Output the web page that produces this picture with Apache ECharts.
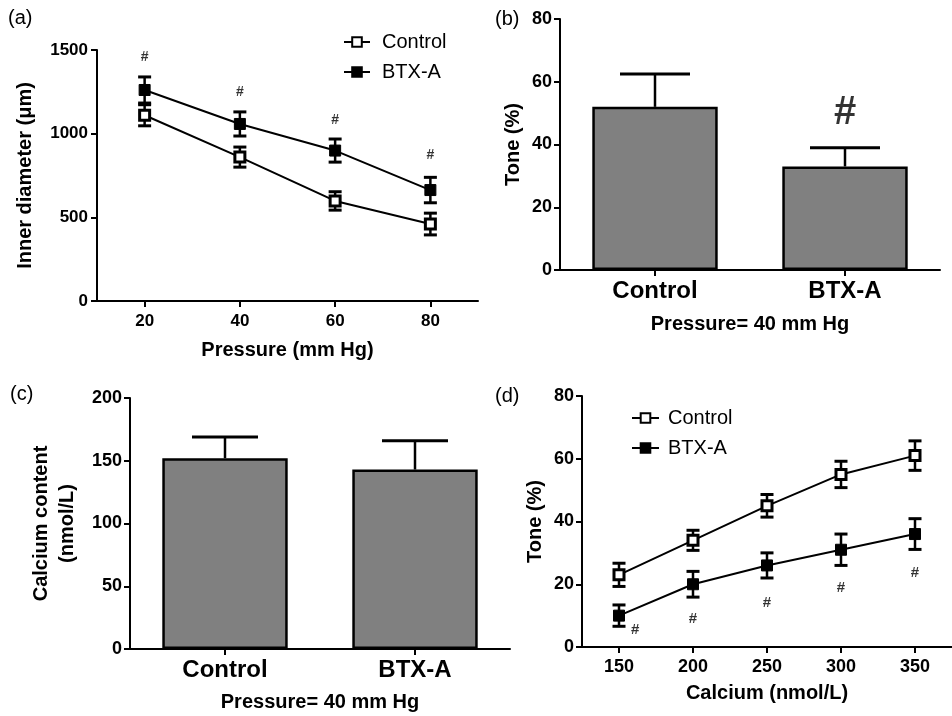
<!DOCTYPE html>
<html>
<head>
<meta charset="utf-8">
<script src="https://cdn.jsdelivr.net/npm/echarts@6/dist/echarts.min.js"></script>
<style>
  html, body { margin: 0; padding: 0; background: #fff; }
  #chart { width: 952px; height: 716px; }
</style>
</head>
<body>
<div id="chart"></div>
<script>
// (a) inner diameter vs pressure
const pressure = [20, 40, 60, 80];
const diamControl = [1110, 860, 598, 460];
const diamControlErr = [63, 60, 55, 65];
const diamBtx = [1261, 1058, 899, 663];
const diamBtxErr = [78, 72, 69, 76];
const diamHashY = [1460, 1250, 1080, 870];

// (b) tone at 40 mm Hg
const groups = ['Control', 'BTX-A'];
const toneMean = [52, 33];
const toneErr = [10.5, 6];
const toneHashY = [null, 50];

// (c) calcium content at 40 mm Hg
const calciumMean = [152, 143];
const calciumErr = [17, 23];

// (d) tone vs calcium
const calciumDose = [150, 200, 250, 300, 350];
const toneControl = [23, 34, 45, 55, 61];
const toneControlErr = [3.7, 3.2, 3.6, 4.2, 4.7];
const toneBtx = [10, 20, 26, 31, 36];
const toneBtxErr = [3.4, 4.1, 4, 5, 4.9];
const hashDoseX = [161, 200, 250, 300, 350];
const hashDoseY = [5.5, 9, 14, 19, 23.5];

const FONT = '"Liberation Sans", Arial, sans-serif';
const chart = echarts.init(document.getElementById('chart'));

// error bar drawer, cap half width, both directions or only up
const errorBars = (capHalf, both) => (params, api) => {
    const x = api.value(0), y = api.value(1), e = api.value(2);
    const top = api.coord([x, y + e]);
    const bottom = api.coord([x, both ? y - e : y]);
    const stem = { stroke: '#000', lineWidth: 2.5 };
    const cap = { stroke: '#000', lineWidth: 3 };
    const children = [
        { type: 'line', shape: { x1: top[0], y1: top[1], x2: bottom[0], y2: bottom[1] }, style: stem },
        { type: 'line', shape: { x1: top[0] - capHalf, y1: top[1], x2: top[0] + capHalf, y2: top[1] }, style: cap }
    ];
    if (both) {
        children.push({ type: 'line', shape: { x1: bottom[0] - capHalf, y1: bottom[1], x2: bottom[0] + capHalf, y2: bottom[1] }, style: cap });
    }
    return { type: 'group', children };
};

const axisLine = { show: true, lineStyle: { color: '#000', width: 2 } };
const axisTick = { show: true, length: 6, lineStyle: { color: '#000', width: 2 } };
const tickLabel = (size, margin) => ({ color: '#000', fontSize: size, fontWeight: 'bold', fontFamily: FONT, margin: margin });
const nameStyle = { color: '#000', fontSize: 20, fontWeight: 'bold', fontFamily: FONT };

const openSquare = { color: '#fff', borderColor: '#000', borderWidth: 3 };
const filledSquare = { color: '#000', borderColor: '#000', borderWidth: 1 };

const option = {
    animation: false,
    backgroundColor: '#fff',
    grid: [
        { left: 97, top: 50, width: 381, height: 251 },
        { left: 560, top: 19, width: 380, height: 251 },
        { left: 130, top: 398, width: 380, height: 251 },
        { left: 582, top: 396, width: 377, height: 251 }
    ],
    xAxis: [
        {
            gridIndex: 0, type: 'value', min: 10, max: 90,
            name: 'Pressure (mm Hg)', nameLocation: 'middle', nameGap: 39, nameTextStyle: nameStyle,
            axisLine, axisTick: Object.assign({ customValues: pressure }, axisTick),
            axisLabel: Object.assign({ customValues: pressure }, tickLabel(17, 12)),
            splitLine: { show: false }
        },
        {
            gridIndex: 1, type: 'category', data: groups,
            name: 'Pressure= 40 mm Hg', nameLocation: 'middle', nameGap: 44, nameTextStyle: nameStyle,
            axisLine, axisTick: Object.assign({ alignWithLabel: true }, axisTick),
            axisLabel: tickLabel(24, 9)
        },
        {
            gridIndex: 2, type: 'category', data: groups,
            name: 'Pressure= 40 mm Hg', nameLocation: 'middle', nameGap: 43, nameTextStyle: nameStyle,
            axisLine, axisTick: Object.assign({ alignWithLabel: true }, axisTick),
            axisLabel: tickLabel(24, 9)
        },
        {
            gridIndex: 3, type: 'value', min: 125, max: 375,
            name: 'Calcium (nmol/L)', nameLocation: 'middle', nameGap: 36, nameTextStyle: nameStyle,
            axisLine, axisTick: Object.assign({ customValues: calciumDose }, axisTick),
            axisLabel: Object.assign({ customValues: calciumDose }, tickLabel(18, 11)),
            splitLine: { show: false }
        }
    ],
    yAxis: [
        {
            gridIndex: 0, type: 'value', min: 0, max: 1500, interval: 500,
            name: 'Inner diameter (μm)', nameLocation: 'middle', nameGap: 62, nameTextStyle: nameStyle,
            axisLine, axisTick,
            axisLabel: Object.assign({ formatter: v => String(v) }, tickLabel(17, 9)),
            splitLine: { show: false }
        },
        {
            gridIndex: 1, type: 'value', min: 0, max: 80, interval: 20,
            name: 'Tone (%)', nameLocation: 'middle', nameGap: 37, nameTextStyle: nameStyle,
            axisLine, axisTick, axisLabel: tickLabel(18, 8), splitLine: { show: false }
        },
        {
            gridIndex: 2, type: 'value', min: 0, max: 200, interval: 50,
            name: 'Calcium content\n(nmol/L)', nameLocation: 'middle', nameGap: 50,
            nameTextStyle: Object.assign({ lineHeight: 26 }, nameStyle),
            axisLine, axisTick, axisLabel: tickLabel(18, 8), splitLine: { show: false }
        },
        {
            gridIndex: 3, type: 'value', min: 0, max: 80, interval: 20,
            name: 'Tone (%)', nameLocation: 'middle', nameGap: 37, nameTextStyle: nameStyle,
            axisLine, axisTick, axisLabel: tickLabel(18, 8), splitLine: { show: false }
        }
    ],
    legend: [
        {
            left: 338, top: 27, orient: 'vertical', itemWidth: 26, itemHeight: 12, itemGap: 10,
            data: ['Control', 'BTX-A'],
            textStyle: { color: '#000', fontSize: 20, fontFamily: FONT, padding: [0, 0, 0, 7] }
        },
        {
            left: 626, top: 403, orient: 'vertical', itemWidth: 27, itemHeight: 12, itemGap: 10,
            data: ['Control', 'BTX-A'],
            textStyle: { color: '#000', fontSize: 20, fontFamily: FONT, padding: [0, 0, 0, 4] }
        }
    ],
    graphic: [
        { type: 'text', left: 8, top: 8, style: { text: '(a)', fontSize: 20, fontFamily: FONT, fill: '#000' } },
        { type: 'text', left: 495, top: 9, style: { text: '(b)', fontSize: 20, fontFamily: FONT, fill: '#000' } },
        { type: 'text', left: 10, top: 384, style: { text: '(c)', fontSize: 20, fontFamily: FONT, fill: '#000' } },
        { type: 'text', left: 495, top: 386, style: { text: '(d)', fontSize: 20, fontFamily: FONT, fill: '#000' } }
    ],
    series: [
        // (a)
        {
            type: 'custom', xAxisIndex: 0, yAxisIndex: 0, z: 1,
            renderItem: errorBars(6.5, true),
            data: pressure.map((p, i) => [p, diamControl[i], diamControlErr[i]])
        },
        {
            type: 'custom', xAxisIndex: 0, yAxisIndex: 0, z: 1,
            renderItem: errorBars(6.5, true),
            data: pressure.map((p, i) => [p, diamBtx[i], diamBtxErr[i]])
        },
        {
            name: 'Control', type: 'line', xAxisIndex: 0, yAxisIndex: 0, z: 3,
            symbol: 'rect', symbolSize: 10, lineStyle: { color: '#000', width: 2 }, itemStyle: openSquare,
            data: pressure.map((p, i) => [p, diamControl[i]])
        },
        {
            name: 'BTX-A', type: 'line', xAxisIndex: 0, yAxisIndex: 0, z: 3,
            symbol: 'rect', symbolSize: 11, lineStyle: { color: '#000', width: 2 }, itemStyle: filledSquare,
            data: pressure.map((p, i) => [p, diamBtx[i]])
        },
        {
            type: 'scatter', xAxisIndex: 0, yAxisIndex: 0, symbolSize: 1, itemStyle: { color: 'transparent' },
            label: { show: true, position: 'inside', formatter: '#', color: '#000', fontSize: 14, fontWeight: 'bold', fontFamily: FONT },
            data: pressure.map((p, i) => [p, diamHashY[i]])
        },
        // (b)
        {
            type: 'bar', xAxisIndex: 1, yAxisIndex: 1, barWidth: '66%', z: 2,
            itemStyle: { color: '#808080', borderColor: '#000', borderWidth: 2.5 },
            data: toneMean
        },
        {
            type: 'custom', xAxisIndex: 1, yAxisIndex: 1, z: 1,
            renderItem: errorBars(35, false),
            data: groups.map((g, i) => [i, toneMean[i], toneErr[i]])
        },
        {
            type: 'scatter', xAxisIndex: 1, yAxisIndex: 1, symbolSize: 1, itemStyle: { color: 'transparent' },
            label: { show: true, position: 'inside', formatter: '#', color: '#000', fontSize: 40, fontWeight: 'bold', fontFamily: FONT },
            data: groups.map((g, i) => [i, toneHashY[i]]).filter(d => d[1] !== null)
        },
        // (c)
        {
            type: 'bar', xAxisIndex: 2, yAxisIndex: 2, barWidth: '66%', z: 2,
            itemStyle: { color: '#808080', borderColor: '#000', borderWidth: 2.5 },
            data: calciumMean
        },
        {
            type: 'custom', xAxisIndex: 2, yAxisIndex: 2, z: 1,
            renderItem: errorBars(33, false),
            data: groups.map((g, i) => [i, calciumMean[i], calciumErr[i]])
        },
        // (d)
        {
            type: 'custom', xAxisIndex: 3, yAxisIndex: 3, z: 1,
            renderItem: errorBars(6.5, true),
            data: calciumDose.map((c, i) => [c, toneControl[i], toneControlErr[i]])
        },
        {
            type: 'custom', xAxisIndex: 3, yAxisIndex: 3, z: 1,
            renderItem: errorBars(6.5, true),
            data: calciumDose.map((c, i) => [c, toneBtx[i], toneBtxErr[i]])
        },
        {
            name: 'Control', type: 'line', xAxisIndex: 3, yAxisIndex: 3, z: 3,
            symbol: 'rect', symbolSize: 10, lineStyle: { color: '#000', width: 2 }, itemStyle: openSquare,
            data: calciumDose.map((c, i) => [c, toneControl[i]])
        },
        {
            name: 'BTX-A', type: 'line', xAxisIndex: 3, yAxisIndex: 3, z: 3,
            symbol: 'rect', symbolSize: 11, lineStyle: { color: '#000', width: 2 }, itemStyle: filledSquare,
            data: calciumDose.map((c, i) => [c, toneBtx[i]])
        },
        {
            type: 'scatter', xAxisIndex: 3, yAxisIndex: 3, symbolSize: 1, itemStyle: { color: 'transparent' },
            label: { show: true, position: 'inside', formatter: '#', color: '#000', fontSize: 15, fontWeight: 'bold', fontFamily: FONT },
            data: hashDoseX.map((x, i) => [x, hashDoseY[i]])
        }
    ]
};

chart.setOption(option);
</script>
</body>
</html>
